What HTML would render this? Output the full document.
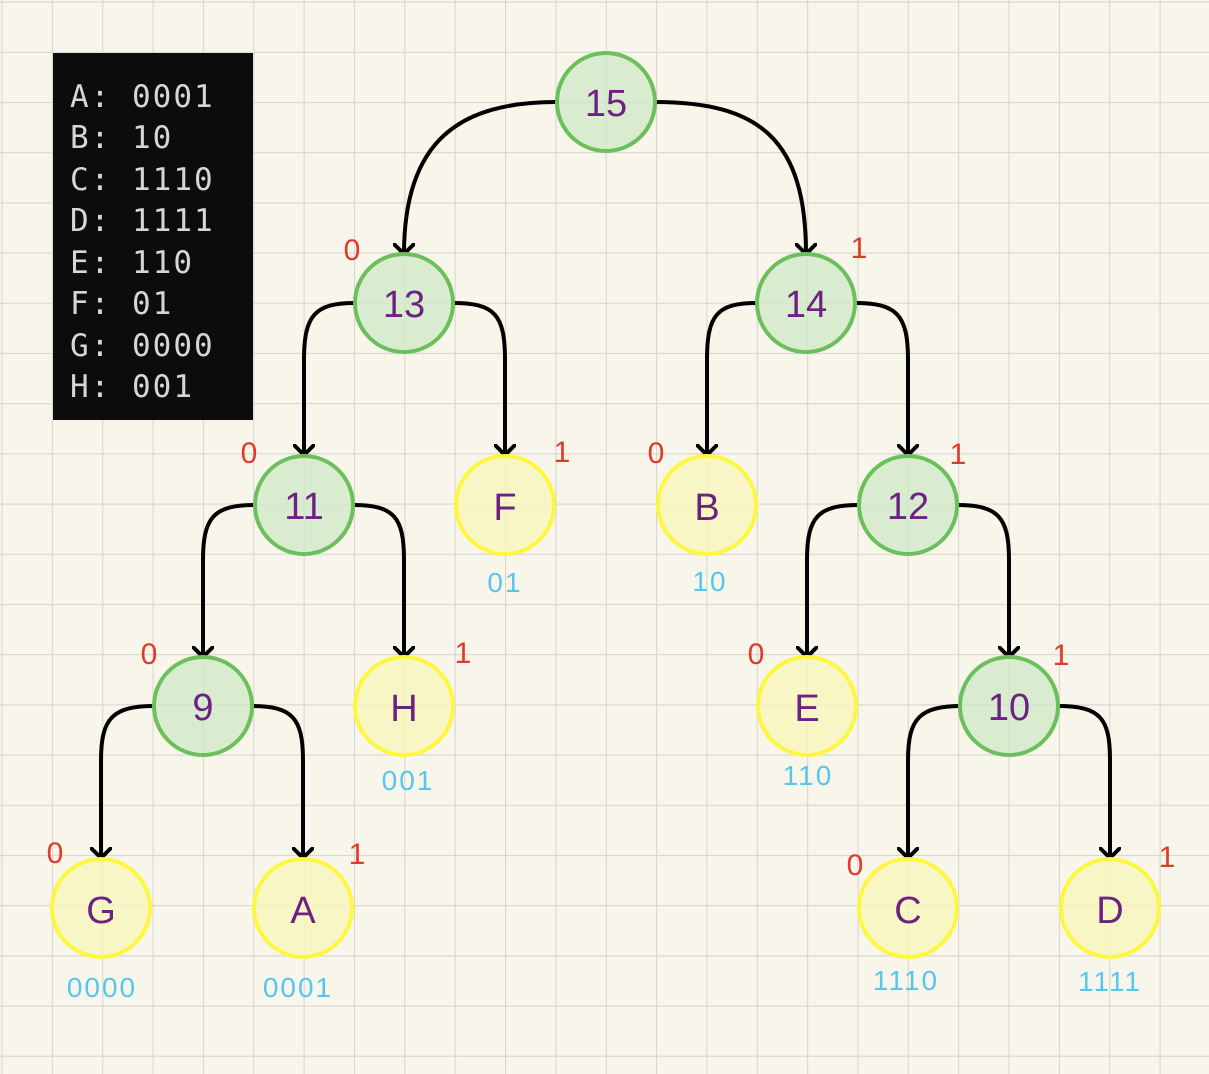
<!DOCTYPE html>
<html><head><meta charset="utf-8"><style>
html,body{margin:0;padding:0;background:#f8f6ea;}
svg{display:block}
</style></head><body>
<svg width="1209" height="1074" viewBox="0 0 1209 1074" xmlns="http://www.w3.org/2000/svg">
<defs>
<pattern id="g" x="1.5" y="1.5" width="50.35" height="50.2" patternUnits="userSpaceOnUse">
<path d="M0 0 V50.2 M0 0 H50.35" stroke="#d6d6d2" stroke-width="2.2" fill="none"/>
</pattern>
<marker id="ar" markerWidth="22" markerHeight="22" refX="11" refY="11" orient="auto" markerUnits="userSpaceOnUse">
<path d="M1.5 1.5 L11 11 L1.5 20.5" fill="none" stroke="#000" stroke-width="4" stroke-linecap="round" stroke-linejoin="round"/>
</marker>
</defs>
<rect width="1209" height="1074" fill="#f8f6ea"/>
<rect width="1209" height="1074" fill="url(#g)"/>

<rect x="53" y="53" width="200" height="367" fill="#0c0c0c"/>
<g font-family="'DejaVu Sans Mono','Liberation Mono',monospace" font-size="31" fill="#d6d6d6" letter-spacing="2">
<text x="70" y="107">A: 0001</text>
<text x="70" y="148">B: 10</text>
<text x="70" y="190">C: 1110</text>
<text x="70" y="231">D: 1111</text>
<text x="70" y="273">E: 110</text>
<text x="70" y="314">F: 01</text>
<text x="70" y="356">G: 0000</text>
<text x="70" y="397">H: 001</text>
</g>

<g fill="none" stroke="#000" stroke-width="4" marker-end="url(#ar)">
<path d="M557 102 C460 102 404 140 404 254"/>
<path d="M655 102 C760 102 806 140 806 254"/>
<path d="M355 303 C315 303 304 315 304 360 V455"/>
<path d="M453 303 C495 303 505 315 505 360 V455"/>
<path d="M757 303 C717 303 707 315 707 360 V455"/>
<path d="M855 303 C897 303 908 315 908 360 V455"/>
<path d="M255 505 C214 505 203 517 203 560 V657"/>
<path d="M353 505 C394 505 404 517 404 560 V657"/>
<path d="M859 505 C818 505 807 517 807 560 V657"/>
<path d="M957 505 C998 505 1009 517 1009 560 V657"/>
<path d="M154 706 C113 706 101 718 101 760 V858"/>
<path d="M252 706 C292 706 303 718 303 760 V858"/>
<path d="M962 706 C920 706 908 718 908 760 V858"/>
<path d="M1058 706 C1100 706 1110 718 1110 760 V858"/>
</g>

<g stroke="#6cc05c" stroke-width="4" fill="#cfe8c6" fill-opacity="0.75">
<circle cx="606" cy="102" r="49"/>
<circle cx="404" cy="303" r="49"/>
<circle cx="806" cy="303" r="49"/>
<circle cx="304" cy="505" r="49"/>
<circle cx="908" cy="505" r="49"/>
<circle cx="203" cy="706" r="49"/>
<circle cx="1009" cy="706" r="49"/>
</g>
<g stroke="#fdf740" stroke-width="4" fill="#f9f6b8" fill-opacity="0.75">
<circle cx="505" cy="505" r="49"/>
<circle cx="707" cy="505" r="49"/>
<circle cx="404" cy="706" r="49"/>
<circle cx="807" cy="706" r="49"/>
<circle cx="101" cy="908" r="49"/>
<circle cx="303" cy="908" r="49"/>
<circle cx="908" cy="908" r="49"/>
<circle cx="1110" cy="908" r="49"/>
</g>

<g font-family="'Liberation Sans',sans-serif" font-size="38" fill="#6b2283" text-anchor="middle">
<text x="606" y="116">15</text>
<text x="404" y="317">13</text>
<text x="806" y="317">14</text>
<text x="304" y="519">11</text>
<text x="908" y="519">12</text>
<text x="203" y="720">9</text>
<text x="1009" y="720">10</text>
<text x="505" y="520">F</text>
<text x="707" y="520">B</text>
<text x="404" y="721">H</text>
<text x="807" y="721">E</text>
<text x="101" y="923">G</text>
<text x="303" y="923">A</text>
<text x="908" y="923">C</text>
<text x="1110" y="923">D</text>
</g>

<g font-family="'Liberation Sans',sans-serif" font-size="30" fill="#e03a2a" text-anchor="middle">
<text x="352" y="260">0</text>
<text x="859" y="258">1</text>
<text x="249" y="463">0</text>
<text x="562" y="462">1</text>
<text x="656" y="463">0</text>
<text x="958" y="464">1</text>
<text x="149" y="664">0</text>
<text x="463" y="663">1</text>
<text x="756" y="664">0</text>
<text x="1061" y="665">1</text>
<text x="55" y="863">0</text>
<text x="357" y="864">1</text>
<text x="855" y="875">0</text>
<text x="1167" y="867">1</text>
</g>

<g font-family="'Liberation Sans',sans-serif" font-size="28" fill="#57c6ef" text-anchor="middle" letter-spacing="2">
<text x="505" y="592">01</text>
<text x="710" y="591">10</text>
<text x="408" y="790">001</text>
<text x="808" y="785">110</text>
<text x="102" y="997">0000</text>
<text x="298" y="997">0001</text>
<text x="906" y="990">1110</text>
<text x="1110" y="991">1111</text>
</g>
</svg>
</body></html>
